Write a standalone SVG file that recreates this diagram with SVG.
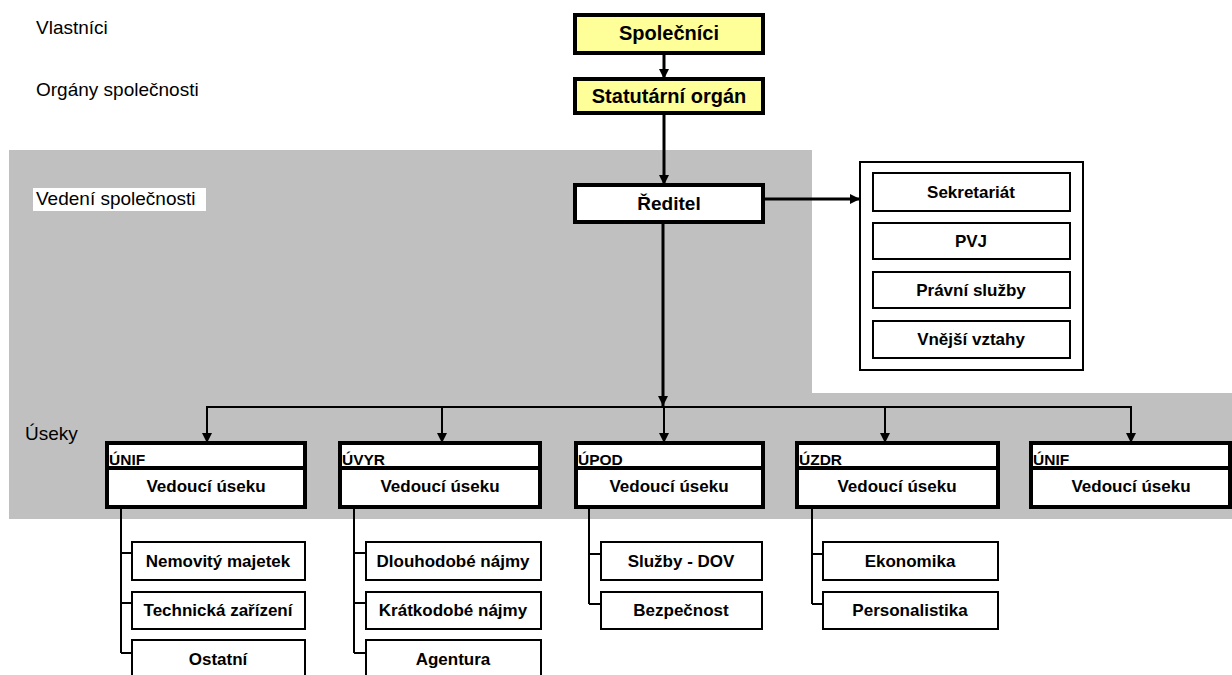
<svg xmlns="http://www.w3.org/2000/svg" width="1232" height="675" viewBox="0 0 1232 675">
<defs>
<marker id="ah" viewBox="0 0 10 10" refX="10" refY="5" markerWidth="10" markerHeight="10" markerUnits="userSpaceOnUse" orient="auto">
<path d="M0,0 L10,5 L0,10 z" fill="#000"/>
</marker>
<style>
.lbl{font-family:"Liberation Sans",Arial,sans-serif;font-size:19px;fill:#000}
.t{font-family:"Liberation Sans",Arial,sans-serif;font-weight:bold;fill:#000;text-anchor:middle}
.top{fill:#ffff99;stroke:#000;stroke-width:4}
.wb{fill:#fff;stroke:#000;stroke-width:4}
.div{fill:#fff;stroke:#000;stroke-width:4}
.sub{fill:#fff;stroke:#000;stroke-width:2}
.hd{font-family:"Liberation Sans",Arial,sans-serif;font-weight:bold;font-size:15.5px;fill:#000}
.c{fill:none;stroke:#000;stroke-width:2}
.ca{fill:none;stroke:#000;stroke-width:2;marker-end:url(#ah)}
</style>
</defs>
<rect width="1232" height="675" fill="#fff"/>
<g id="background">
<rect x="9" y="150" width="803" height="243" fill="#c0c0c0"/>
<rect x="9" y="393" width="1223" height="126" fill="#c0c0c0"/>
</g>
<g id="levels">
<text class="lbl" x="36" y="34">Vlastníci</text>
<text class="lbl" x="36" y="96">Orgány společnosti</text>
<rect x="33" y="188" width="173" height="23" fill="#fff"/>
<text class="lbl" x="36" y="205">Vedení společnosti</text>
<text class="lbl" x="25" y="440">Úseky</text>
</g>
<g id="connectors">
<line class="ca" x1="664" y1="53" x2="664" y2="79" style="stroke-width:3"/>
<line class="ca" x1="664" y1="113" x2="664" y2="185" style="stroke-width:3"/>
<line class="ca" x1="763" y1="199" x2="860" y2="199" style="stroke-width:3"/>
<line class="ca" x1="663" y1="222" x2="663" y2="406" style="stroke-width:3"/>
<line class="c" x1="206" y1="407" x2="1132" y2="407"/>
<line class="ca" x1="207" y1="406" x2="207" y2="443"/>
<line class="ca" x1="442" y1="406" x2="442" y2="443"/>
<line class="ca" x1="664" y1="406" x2="664" y2="443"/>
<line class="ca" x1="885" y1="406" x2="885" y2="443"/>
<line class="ca" x1="1131" y1="406" x2="1131" y2="443"/>
<path class="c" d="M121,507 V653 M121,553 H132 M121,603 H132 M121,653 H132"/>
<path class="c" d="M354,507 V653 M354,553 H366 M354,603 H366 M354,653 H366"/>
<path class="c" d="M589,507 V604 M589,554 H601 M589,604 H601"/>
<path class="c" d="M812,507 V604 M812,554 H823 M812,604 H823"/>
</g>
<g id="spolecnici"><rect class="top" x="575" y="15" width="188" height="38"/><text class="t" x="669" y="40" font-size="20">Společníci</text></g>
<g id="statutarni"><rect class="top" x="575" y="79" width="188" height="34"/><text class="t" x="669" y="103" font-size="20">Statutární orgán</text></g>
<g id="reditel"><rect class="wb" x="575" y="185" width="188" height="37"/><text class="t" x="669" y="210" font-size="19">Ředitel</text></g>
<g id="staff">
<rect fill="#fff" stroke="#000" stroke-width="2" x="860" y="162" width="223" height="208"/>
<g id="sekretariat"><rect class="sub" x="873" y="173" width="197" height="38"/><text class="t" x="971" y="198" font-size="17">Sekretariát</text></g>
<g id="pvj"><rect class="sub" x="873" y="223" width="197" height="36"/><text class="t" x="971" y="247" font-size="17">PVJ</text></g>
<g id="pravni"><rect class="sub" x="873" y="272" width="197" height="36"/><text class="t" x="971" y="296" font-size="17">Právní služby</text></g>
<g id="vnejsi"><rect class="sub" x="873" y="321" width="197" height="37"/><text class="t" x="971" y="345" font-size="17">Vnější vztahy</text></g>
</g>
<g id="unif1"><rect class="div" x="107" y="443" width="198" height="64"/><line x1="107" y1="468" x2="305" y2="468" stroke="#000" stroke-width="4"/><text class="hd" x="109" y="465">ÚNIF</text><text class="t" x="206" y="492" font-size="17">Vedoucí úseku</text></g>
<g id="uvyr"><rect class="div" x="340" y="443" width="200" height="64"/><line x1="340" y1="468" x2="540" y2="468" stroke="#000" stroke-width="4"/><text class="hd" x="342" y="465">ÚVYR</text><text class="t" x="440" y="492" font-size="17">Vedoucí úseku</text></g>
<g id="upod"><rect class="div" x="576" y="443" width="187" height="64"/><line x1="576" y1="468" x2="763" y2="468" stroke="#000" stroke-width="4"/><text class="hd" x="578" y="465">ÚPOD</text><text class="t" x="669" y="492" font-size="17">Vedoucí úseku</text></g>
<g id="uzdr"><rect class="div" x="797" y="443" width="201" height="64"/><line x1="797" y1="468" x2="998" y2="468" stroke="#000" stroke-width="4"/><text class="hd" x="799" y="465">ÚZDR</text><text class="t" x="897" y="492" font-size="17">Vedoucí úseku</text></g>
<g id="unif2"><rect class="div" x="1031" y="443" width="199" height="64"/><line x1="1031" y1="468" x2="1230" y2="468" stroke="#000" stroke-width="4"/><text class="hd" x="1033" y="465">ÚNIF</text><text class="t" x="1131" y="492" font-size="17">Vedoucí úseku</text></g>
<g id="nemovity"><rect class="sub" x="132" y="542" width="173" height="38"/><text class="t" x="218" y="567" font-size="17">Nemovitý majetek</text></g>
<g id="technicka"><rect class="sub" x="132" y="592" width="173" height="37"/><text class="t" x="218" y="616" font-size="17">Technická zařízení</text></g>
<g id="ostatni"><rect class="sub" x="132" y="640" width="173" height="40"/><text class="t" x="218" y="665" font-size="17">Ostatní</text></g>
<g id="dlouhodobe"><rect class="sub" x="366" y="542" width="175" height="38"/><text class="t" x="453" y="567" font-size="17">Dlouhodobé nájmy</text></g>
<g id="kratkodobe"><rect class="sub" x="366" y="592" width="175" height="37"/><text class="t" x="453" y="616" font-size="17">Krátkodobé nájmy</text></g>
<g id="agentura"><rect class="sub" x="366" y="640" width="175" height="40"/><text class="t" x="453" y="665" font-size="17">Agentura</text></g>
<g id="sluzby"><rect class="sub" x="601" y="542" width="161" height="38"/><text class="t" x="681" y="567" font-size="17">Služby - DOV</text></g>
<g id="bezpecnost"><rect class="sub" x="601" y="592" width="161" height="37"/><text class="t" x="681" y="616" font-size="17">Bezpečnost</text></g>
<g id="ekonomika"><rect class="sub" x="823" y="542" width="175" height="38"/><text class="t" x="910" y="567" font-size="17">Ekonomika</text></g>
<g id="personalistika"><rect class="sub" x="823" y="592" width="175" height="37"/><text class="t" x="910" y="616" font-size="17">Personalistika</text></g>
</svg>
